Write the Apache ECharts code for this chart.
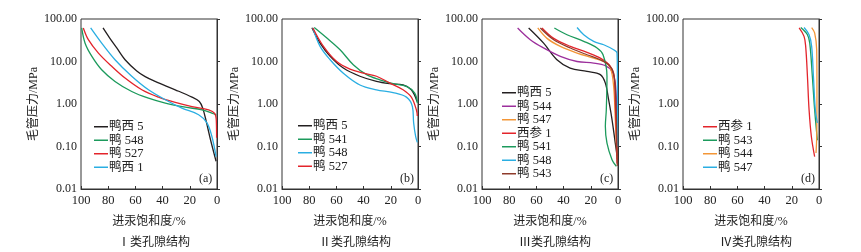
<!DOCTYPE html>
<html lang="zh">
<head>
<meta charset="UTF-8">
<title>毛管压力曲线</title>
<script src="https://cdn.jsdelivr.net/npm/echarts@6/dist/echarts.min.js"></script>
<style>
  html, body { margin: 0; padding: 0; background: #fff; }
  #main { width: 861px; height: 252px; }
</style>
</head>
<body>
<div id="main"></div>
<script>
// 进汞饱和度(%) , 毛管压力(MPa)  -- 读图估计
// (a) I类
var a_yx5   = [[83.8,61.5],[79,36],[73.7,20.8],[67.6,11],[59,6.0],[52.8,4.4],[45.5,3.4],[30.7,2.16],[18.4,1.45],[13,1.15],[10.5,0.8],[8,0.4],[4.9,0.15],[0.7,0.045]];
var a_y548  = [[99.5,61.5],[97,27],[92,13.2],[84.8,6.4],[75,3.4],[62.7,1.97],[50.4,1.37],[38,1.05],[23.3,0.84],[11,0.73],[2.5,0.59],[0.5,0.55]];
var a_y527  = [[98.3,61.5],[94.6,32.6],[87.2,15.8],[77.4,7.7],[67.6,4.07],[55.3,2.16],[43,1.45],[30.7,1.09],[18.4,0.87],[6.1,0.73],[1.7,0.6],[0.5,0.4],[0.3,0.16]];
var a_yx1   = [[92.9,61.5],[84.8,27],[75,11],[62.7,4.5],[50.4,2.16],[38,1.26],[25.8,0.8],[13.5,0.56],[7.4,0.36],[3.7,0.17],[0.7,0.058]];
// (b) II类
var b_yx5   = [[78,62],[72,27],[64.6,13.2],[54.9,7],[42.7,4.5],[30.5,3.4],[20.7,3.0],[11,2.8],[4.9,2.16],[0.7,1.15]];
var b_y541  = [[76.3,63],[67,35.6],[57.3,18.9],[47.6,8.4],[37.8,4.9],[28,3.7],[18.3,3.0],[8.5,2.6],[2.4,1.8],[0.5,1.05]];
var b_y548  = [[77.3,61.5],[72,22.7],[64.6,11],[54.9,5.3],[42.7,2.8],[30.5,2.16],[18.3,1.86],[8.5,1.45],[4.1,0.87],[3.2,0.36],[1.7,0.17],[0.5,0.125]];
var b_y527  = [[77.3,61.5],[69.5,22.7],[59.8,10],[50,6.6],[40.2,5.3],[30.5,4.5],[20.7,3.1],[11,2.16],[4.9,1.45],[1.2,0.73],[0.5,0.52]];
// (c) III类
var c_yx5   = [[65.7,61.5],[54.7,27],[44.9,11],[35.2,7],[22.8,5.85],[13,4.9],[9.3,3.1],[6.9,1.26],[4.4,0.43],[2,0.12],[0.7,0.06]];
var c_y544  = [[73.8,61.5],[64.5,32.6],[54.7,20.8],[42.4,13.2],[30.1,10],[17.9,9.2],[9.3,8],[4.4,5.85],[2,3.1],[1,0.8],[0.5,0.1]];
var c_y547  = [[59,61.5],[52.2,35],[42.4,22.7],[30.1,15.8],[17.9,12],[10.5,10],[5.6,7],[3.2,2.6],[2,0.43],[0.7,0.05]];
var c_xs1   = [[55.9,61.5],[47.3,35],[35,22.7],[22.8,16.4],[13,12],[5.6,7.7],[2.7,4.07],[2,1.05],[1.2,0.17],[0.7,0.04]];
var c_y541  = [[46.8,61.5],[37.5,42.6],[25.2,29.8],[15.4,20.8],[11,14.4],[8.1,4.5],[8.6,0.73],[9.3,0.3],[8.1,0.12],[4.4,0.049],[1.2,0.034]];
var c_y548  = [[30.1,63],[25.2,42.6],[17.9,29.8],[10.5,24.8],[3.2,18.9],[0.7,15.8],[0.4,3],[0.3,0.1]];
var c_y543  = [[57.1,61.5],[47.3,32.6],[35,20.8],[22.8,14.4],[13,11],[6.9,8.4],[3.2,5.3],[1.5,1],[0.5,0.035]];
// (d) IV类
var d_xs1   = [[14.6,61.5],[11,39],[9.8,22.7],[8.5,4.5],[7.3,0.73],[5.6,0.17],[3.2,0.058]];
var d_y543  = [[13.4,63],[8.5,42.6],[6.8,27],[4.9,4.5],[3.2,0.73],[1.2,0.14]];
var d_y544  = [[5.4,63],[3.2,47],[1.7,19],[1.5,1.8],[1.7,0.16],[2.2,0.07]];
var d_y547  = [[11,63],[7.3,42.6],[5.4,22.7],[4.1,4.5],[2.7,0.73],[1.2,0.36]];

var subTitles = ['Ⅰ类孔隙结构', 'Ⅱ类孔隙结构', 'Ⅲ类孔隙结构', 'Ⅳ类孔隙结构'];
var tags = ['(a)', '(b)', '(c)', '(d)'];

var C = {
    black: '#231f20', green: '#1c9a5c', red: '#e3242b', cyan: '#2aaee2',
    purple: '#9c2f9c', orange: '#f39637', brown: '#8e3b2b'
};

var panels = [
    { left: 81, legendLeft: 94, legendTop: 120, lines: [
        ['鸭西 5', a_yx5, C.black], ['鸭 548', a_y548, C.green], ['鸭 527', a_y527, C.red], ['鸭西 1', a_yx1, C.cyan]] },
    { left: 282, legendLeft: 298, legendTop: 119, lines: [
        ['鸭西 5', b_yx5, C.black], ['鸭 541', b_y541, C.green], ['鸭 548', b_y548, C.cyan], ['鸭 527', b_y527, C.red]] },
    { left: 482, legendLeft: 502, legendTop: 86, lines: [
        ['鸭西 5', c_yx5, C.black], ['鸭 544', c_y544, C.purple], ['鸭 547', c_y547, C.orange], ['西参 1', c_xs1, C.red],
        ['鸭 541', c_y541, C.green], ['鸭 548', c_y548, C.cyan], ['鸭 543', c_y543, C.brown]] },
    { left: 683, legendLeft: 703, legendTop: 120, lines: [
        ['西参 1', d_xs1, C.red], ['鸭 543', d_y543, C.green], ['鸭 544', d_y544, C.orange], ['鸭 547', d_y547, C.cyan]] }
];

var FONT = '"Liberation Serif", "Noto Sans CJK SC", serif';
var W = 136, TOP = 19, H = 170;

var grid = [], xAxis = [], yAxis = [], series = [], legend = [], title = [], graphic = [];
panels.forEach(function (p, i) {
    grid.push({ left: p.left, top: TOP, width: W, height: H, show: true,
        borderColor: '#333', borderWidth: 1, backgroundColor: 'transparent' });
    xAxis.push({
        gridIndex: i, type: 'value', min: 0, max: 100, interval: 20, inverse: true,
        name: '进汞饱和度/%', nameLocation: 'middle', nameGap: 27,
        nameTextStyle: { fontFamily: FONT, fontSize: 12, color: '#222' },
        axisLine: { lineStyle: { color: '#333', width: 1 } },
        axisTick: { inside: true, length: 3, lineStyle: { color: '#333' } },
        axisLabel: { fontFamily: FONT, fontSize: 12.5, color: '#222', margin: 5 },
        splitLine: { show: false }
    });
    yAxis.push({
        gridIndex: i, type: 'log', logBase: 10, min: 0.01, max: 100,
        name: '毛管压力/MPa', nameLocation: 'middle', nameGap: 35,
        nameTextStyle: { fontFamily: FONT, fontSize: 12, color: '#222' },
        axisLine: { lineStyle: { color: '#333', width: 1 } },
        axisTick: { inside: true, length: 3, lineStyle: { color: '#333' } },
        minorTick: { show: false },
        axisLabel: { fontFamily: FONT, fontSize: 12, color: '#222', margin: 4,
            formatter: function (v) { return Number(v).toFixed(2); } },
        splitLine: { show: false }
    });
    var names = [];
    p.lines.forEach(function (l) {
        var nm = i + '|' + l[0];
        names.push(nm);
        series.push({
            name: nm, type: 'line', xAxisIndex: i, yAxisIndex: i,
            data: l[1], smooth: 0.35, symbol: 'none', color: l[2],
            lineStyle: { width: 1.3, color: l[2] }, z: 2
        });
    });
    legend.push({
        data: names, orient: 'vertical', left: p.legendLeft, top: p.legendTop,
        icon: 'rect', itemWidth: 14, itemHeight: 1.5, itemGap: 0, padding: 0, selectedMode: false,
        textStyle: { fontFamily: FONT, fontSize: 12.5, color: '#222', lineHeight: 13.5, padding: [0, 0, 0, -4] },
        formatter: function (n) { return n.split('|')[1]; }
    });
    title.push({
        text: subTitles[i], left: p.left + W / 2, top: 232, textAlign: 'center',
        textStyle: { fontFamily: FONT, fontSize: 12, fontWeight: 'normal', color: '#222' }
    });
    graphic.push({
        type: 'text', left: p.left + W - 18, top: TOP + H - 16,
        style: { text: tags[i], font: '12px ' + FONT, fill: '#222' }
    });
});

var chart = echarts.init(document.getElementById('main'), null, { renderer: 'canvas' });
chart.setOption({
    animation: false,
    backgroundColor: '#fff',
    grid: grid, xAxis: xAxis, yAxis: yAxis, series: series,
    legend: legend, title: title, graphic: graphic
});
</script>
</body>
</html>
